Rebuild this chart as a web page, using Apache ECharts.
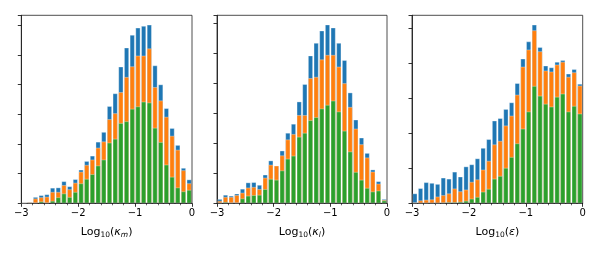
<!DOCTYPE html>
<html>
<head>
<meta charset="utf-8">
<script src="https://cdn.jsdelivr.net/npm/echarts@6/dist/echarts.min.js"></script>
<style>
html,body{margin:0;padding:0;background:#fff;}
#chart{width:599px;height:257px;}
</style>
</head>
<body>
<div id="chart"></div>
<script>
// Bin left edges (log10 scale), 30 bins of width 0.1 from -3 to 0
const bins = ['-3.0','-2.9','-2.8','-2.7','-2.6','-2.5','-2.4','-2.3','-2.2','-2.1',
              '-2.0','-1.9','-1.8','-1.7','-1.6','-1.5','-1.4','-1.3','-1.2','-1.1',
              '-1.0','-0.9','-0.8','-0.7','-0.6','-0.5','-0.4','-0.3','-0.2','-0.1'];

// Panel 1: Log10(kappa_m)
const kmBlue   = [0,0.03,0.21,0.27,0.30,0.52,0.53,0.74,0.57,0.81,1.13,1.42,1.60,2.07,2.40,3.27,3.70,4.60,5.24,5.67,5.91,5.97,6.01,4.64,4.00,3.20,2.53,1.96,1.19,0.80];
const kmOrange = [0,0.03,0.16,0.20,0.22,0.38,0.38,0.61,0.47,0.69,1.06,1.29,1.47,1.87,2.08,2.83,3.03,3.74,4.25,4.61,4.97,4.97,5.21,3.91,3.46,2.91,2.27,1.80,1.11,0.67];
const kmGreen  = [0,0,0.02,0.06,0.02,0.08,0.20,0.33,0.21,0.38,0.67,0.82,0.98,1.27,1.47,2.04,2.17,2.70,2.76,3.18,3.26,3.42,3.39,2.54,2.06,1.30,0.89,0.53,0.40,0.45];

// Panel 2: Log10(kappa_l)
const klBlue   = [0.14,0.28,0.25,0.32,0.48,0.69,0.70,0.61,0.95,1.42,1.25,1.75,2.34,2.64,3.38,3.96,4.91,5.33,5.74,5.94,5.84,5.33,4.76,3.68,2.78,2.18,1.67,1.12,0.73,0.14];
const klOrange = [0.08,0.21,0.21,0.27,0.35,0.52,0.54,0.47,0.85,1.28,1.25,1.59,2.12,2.30,2.93,2.93,4.16,4.20,4.78,4.93,4.93,4.54,3.99,3.20,2.48,1.96,1.52,1.05,0.65,0.11];
const klGreen  = [0.02,0.04,0.02,0.02,0.16,0.25,0.27,0.28,0.47,0.81,0.78,1.09,1.48,1.58,2.21,2.34,2.76,2.86,3.15,3.27,3.41,3.05,2.41,1.72,1.04,0.78,0.51,0.39,0.42,0.09];

// Panel 3: Log10(epsilon)
const epBlue   = [0.28,0.43,0.60,0.58,0.55,0.73,0.70,0.90,0.76,1.05,1.11,1.28,1.58,1.83,2.36,2.43,2.69,2.88,3.43,4.13,4.62,5.10,4.46,3.93,3.88,4.04,4.09,3.70,3.83,3.41];
const epOrange = [0.02,0.08,0.10,0.11,0.19,0.23,0.28,0.42,0.34,0.39,0.61,0.68,0.96,1.21,1.68,1.78,2.22,2.50,3.10,3.90,4.39,4.94,4.34,3.79,3.76,3.96,4.04,3.61,3.74,3.36];
const epGreen  = [0,0,0,0,0,0.02,0.03,0.03,0.04,0.07,0.13,0.18,0.33,0.41,0.70,0.78,1.01,1.32,1.71,2.13,2.62,3.35,3.07,2.84,2.76,3.04,3.13,2.62,2.78,2.56];

const xTicks = [-3,-2,-1,0];

const panels = [
  {blue:kmBlue, orange:kmOrange, green:kmGreen, sub:'m', sym:'κ', ymax:6.33},
  {blue:klBlue, orange:klOrange, green:klGreen, sub:'l', sym:'κ', ymax:6.25},
  {blue:epBlue, orange:epOrange, green:epGreen, sub:'', sym:'ε', ymax:5.37}
];
const gridPos = [
  {left:21.3, width:170.7},
  {left:217, width:170},
  {left:412, width:170.7}
];

const FONT = 'DejaVu Sans';
const colors = ['#1f77b4','#ff7f0e','#2ca02c'];

const grid = [], xAxis = [], yAxis = [], series = [];
panels.forEach((p, i) => {
  grid.push({left:gridPos[i].left, width:gridPos[i].width, top:15.3, height:188,
             show:true, borderColor:'#222', borderWidth:0.8, z:5});
  xAxis.push({type:'category', gridIndex:i, data:bins, show:false, boundaryGap:true});
  const nameRich = {
    n:{fontFamily:FONT, fontSize:11, color:'#000'},
    s:{fontFamily:FONT, fontSize:7.5, color:'#000', padding:[6,0,0,0]},
    k:{fontFamily:FONT, fontSize:11, color:'#000', fontStyle:'italic'},
    ks:{fontFamily:FONT, fontSize:7.5, color:'#000', fontStyle:'italic', padding:[6,0,0,0]}
  };
  const nm = '{n|Log}{s|10}{n|(}{k|' + p.sym + '}' + (p.sub ? '{ks|' + p.sub + '}' : '') + '{n|)}';
  xAxis.push({type:'value', gridIndex:i, min:-3, max:0, interval:1, position:'bottom',
    name:nm, nameLocation:'middle', nameGap:22,
    nameTextStyle:{rich:nameRich},
    axisLine:{show:true, onZero:false, lineStyle:{color:'#000', width:0.8}},
    axisTick:{show:true, inside:false, length:3.5, customValues:xTicks, lineStyle:{color:'#000', width:0.8}},
    minorTick:{show:true, splitNumber:5, length:2, lineStyle:{color:'#000', width:0.6}},
    splitLine:{show:false}, minorSplitLine:{show:false},
    axisLabel:{fontFamily:FONT, fontSize:10, color:'#000', margin:5, customValues:xTicks,
      formatter:v => (v < 0 ? '\u2212' + Math.abs(v) : String(v))}
  });
  yAxis.push({type:'value', gridIndex:i, min:0, max:p.ymax, interval:1, position:'left',
    axisLine:{show:true, onZero:false, lineStyle:{color:'#000', width:0.8}},
    axisTick:{show:true, inside:false, length:3.5, lineStyle:{color:'#000', width:0.8}},
    axisLabel:{show:false},
    splitLine:{show:false}
  });
  [p.blue, p.orange, p.green].forEach((d, j) => {
    series.push({type:'bar', xAxisIndex:2*i, yAxisIndex:i, data:d,
      barGap:'-100%', barCategoryGap:'14%',
      itemStyle:{color:colors[j], borderColor:'rgba(255,255,255,0.55)', borderWidth:0.6},
      silent:true, animation:false, z:2+j});
  });
});

const chart = echarts.init(document.getElementById('chart'), null, {renderer:'canvas'});
chart.setOption({animation:false, backgroundColor:'#fff', grid, xAxis, yAxis, series});
</script>
</body>
</html>
